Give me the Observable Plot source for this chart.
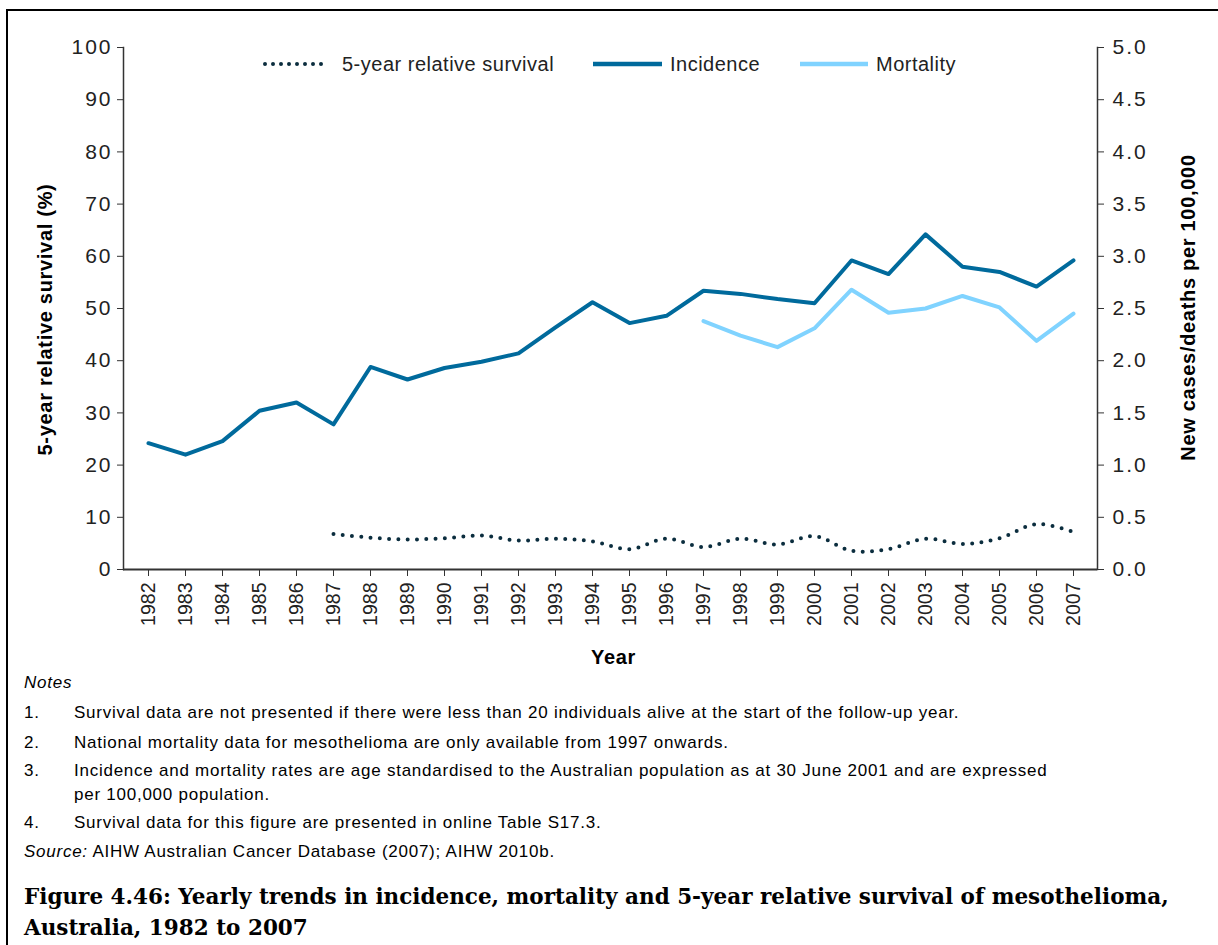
<!DOCTYPE html>
<html>
<head>
<meta charset="utf-8">
<script src="https://cdn.jsdelivr.net/npm/d3@7"></script>
<script src="https://cdn.jsdelivr.net/npm/@observablehq/plot@0.6"></script>
<style>
  html, body { margin: 0; padding: 0; background: #fff; }
  #page { position: relative; width: 1218px; height: 945px; overflow: hidden; font-family: "Liberation Sans", Arial, sans-serif; color: #000; }
  #border { position: absolute; left: 6px; top: 9px; right: -5px; bottom: -5px; border-top: 2px solid #000; border-left: 2px solid #000; }
  #chart { position: absolute; left: 0; top: 0; }
  .legend { position: absolute; top: 52px; font-size: 20px; letter-spacing: 0.5px; color: #222; line-height: 24px; white-space: nowrap; }
  .legend svg { position: absolute; left: 0; top: 0; overflow: visible; }
  .note { position: absolute; font-size: 17px; letter-spacing: 0.75px; line-height: 20px; white-space: nowrap; color: #000; }
  .num { position: absolute; left: 24px; }
  .txt { position: absolute; left: 74px; }
  #title { position: absolute; left: 24px; top: 881px; font-family: "DejaVu Serif", serif; font-weight: bold; font-size: 21.5px; line-height: 31px; color: #000; white-space: nowrap; }
</style>
</head>
<body>
<div id="page">
  <div id="border"></div>
  <div id="chart"></div>
  <div id="legend"></div>
  <div class="note" style="left:24px; top:673px; font-style:italic;">Notes</div>
  <div class="note" style="left:0; top:703px; width:1218px;"><span class="num">1.</span><span class="txt">Survival data are not presented if there were less than 20 individuals alive at the start of the follow-up year.</span></div>
  <div class="note" style="left:0; top:733px; width:1218px;"><span class="num">2.</span><span class="txt">National mortality data for mesothelioma are only available from 1997 onwards.</span></div>
  <div class="note" style="left:0; top:761px; width:1218px;"><span class="num">3.</span><span class="txt">Incidence and mortality rates are age standardised to the Australian population as at 30 June 2001 and are expressed</span></div>
  <div class="note" style="left:74px; top:785px;">per 100,000 population.</div>
  <div class="note" style="left:0; top:813px; width:1218px;"><span class="num">4.</span><span class="txt">Survival data for this figure are presented in online Table S17.3.</span></div>
  <div class="note" style="left:24px; top:842px;"><i>Source:</i> AIHW Australian Cancer Database (2007); AIHW 2010b.</div>
  <div id="title">Figure 4.46: Yearly trends in incidence, mortality and 5-year relative survival of mesothelioma,<br>Australia, 1982 to 2007</div>
</div>
<script>
// ---- Data ----
const years = [1982,1983,1984,1985,1986,1987,1988,1989,1990,1991,1992,1993,1994,1995,1996,1997,1998,1999,2000,2001,2002,2003,2004,2005,2006,2007];
// New cases per 100,000 (right axis)
const incidence = [1.21,1.10,1.23,1.52,1.60,1.39,1.94,1.82,1.93,1.99,2.07,2.32,2.56,2.36,2.43,2.67,2.64,2.59,2.55,2.96,2.83,3.21,2.90,2.85,2.71,2.96];
// Deaths per 100,000 (right axis), available from 1997
const mortality = [null,null,null,null,null,null,null,null,null,null,null,null,null,null,null,2.38,2.24,2.13,2.31,2.68,2.46,2.50,2.62,2.51,2.19,2.45];
// 5-year relative survival % (left axis), presented from 1987
const survival = [null,null,null,null,null,6.8,6.1,5.75,6.0,6.5,5.55,5.9,5.4,3.9,5.9,4.3,5.9,4.8,6.4,3.6,3.9,5.9,4.9,6.0,8.7,7.2];

const leftTicks = [0,10,20,30,40,50,60,70,80,90,100];
const rightTicks = [0.0,0.5,1.0,1.5,2.0,2.5,3.0,3.5,4.0,4.5,5.0];
const leftMax = 100, rightMax = 5;
const ratio = leftMax / rightMax; // maps right-axis units onto the left-axis scale

const seriesNames = ["5-year relative survival", "Incidence", "Mortality"];
const seriesColors = ["#0B2D3E", "#006A9C", "#80D3FF"];

const table = years.map((year, i) => ({year, incidence: incidence[i], mortality: mortality[i], survival: survival[i]}));

const axisColor = "#333";
const W = 1218, H = 680;

const chart = Plot.plot({
  width: W,
  height: H,
  marginLeft: 123,
  marginRight: 121,
  marginTop: 47,
  marginBottom: 111,
  style: {fontFamily: "'Liberation Sans', Arial, sans-serif", color: "#222", background: "transparent", overflow: "visible"},
  x: {type: "point", domain: years, padding: 0.5},
  y: {domain: [0, leftMax]},
  marks: [
    Plot.frame({anchor: "left", stroke: axisColor, strokeWidth: 1.5}),
    Plot.frame({anchor: "right", stroke: axisColor, strokeWidth: 1.5}),
    Plot.ruleY([0], {stroke: axisColor, strokeWidth: 2}),
    Plot.axisY(leftTicks, {anchor: "left", tickSize: 6, tickPadding: 5, fontSize: 21, label: null, stroke: axisColor}),
    Plot.axisY(rightTicks.map(v => v * ratio), {anchor: "right", tickSize: 6, tickPadding: 9, fontSize: 21, label: null, stroke: axisColor, tickFormat: d => (d / ratio).toFixed(1)}),
    Plot.axisX(years, {anchor: "bottom", tickSize: 7, tickPadding: 6, tickRotate: -90, fontSize: 19.5, label: null, stroke: axisColor, tickFormat: d => String(d)}),
    Plot.lineY(table, {x: "year", y: d => d.incidence == null ? NaN : d.incidence * ratio, stroke: seriesColors[1], strokeWidth: 4}),
    Plot.lineY(table, {x: "year", y: d => d.mortality == null ? NaN : d.mortality * ratio, stroke: seriesColors[2], strokeWidth: 4}),
    Plot.lineY(table.filter(d => d.survival != null), {x: "year", y: "survival", stroke: seriesColors[0], strokeWidth: 4, strokeLinecap: "round", strokeDasharray: "0,9.3", curve: "catmull-rom"}),
    Plot.text(["5-year relative survival (%)"], {frameAnchor: "left", textAnchor: "middle", rotate: -90, dx: -78, dy: 11, fontSize: 20, fontWeight: "bold", fill: "#000"}),
    Plot.text(["New cases/deaths per 100,000"], {frameAnchor: "right", textAnchor: "middle", rotate: -90, dx: 91, dy: -1, fontSize: 20, fontWeight: "bold", fill: "#000"}),
    Plot.text(["Year"], {frameAnchor: "bottom", dx: 3, dy: 94, fontSize: 20, fontWeight: "bold", fill: "#000"})
  ]
});
d3.select(chart).selectAll('g[aria-label="y-axis tick label"] text').attr("letter-spacing", "2px");
d3.select(chart).selectAll('g[aria-label="text"] text').attr("letter-spacing", "0.7px");
document.getElementById("chart").appendChild(chart);

// ---- Legend ----
const legendItems = [
  {x: 263, len: 66, dash: "0,8", cap: "round", tx: 342},
  {x: 593, len: 69, dash: null, cap: "butt", tx: 670},
  {x: 800, len: 68, dash: null, cap: "butt", tx: 876}
];
const legend = document.getElementById("legend");
legendItems.forEach((it, i) => {
  const div = document.createElement("div");
  div.className = "legend";
  div.style.left = it.x + "px";
  const svgNS = "http://www.w3.org/2000/svg";
  const svg = document.createElementNS(svgNS, "svg");
  svg.setAttribute("width", it.len);
  svg.setAttribute("height", 24);
  const ln = document.createElementNS(svgNS, "line");
  ln.setAttribute("x1", i === 0 ? 2 : 0);
  ln.setAttribute("x2", it.len);
  ln.setAttribute("y1", 12);
  ln.setAttribute("y2", 12);
  ln.setAttribute("stroke", seriesColors[i]);
  ln.setAttribute("stroke-width", i === 0 ? 4 : 4.5);
  ln.setAttribute("stroke-linecap", it.cap);
  if (it.dash) ln.setAttribute("stroke-dasharray", it.dash);
  svg.appendChild(ln);
  div.appendChild(svg);
  const span = document.createElement("span");
  span.textContent = seriesNames[i];
  span.style.position = "absolute";
  span.style.left = (it.tx - it.x) + "px";
  span.style.top = "0px";
  div.appendChild(span);
  legend.appendChild(div);
});
</script>
</body>
</html>
